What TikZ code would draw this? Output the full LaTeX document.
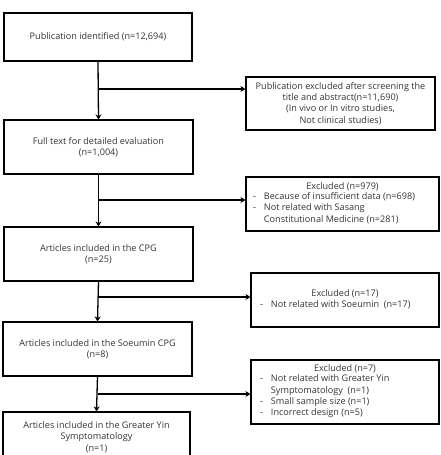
\documentclass[tikz,border=0pt]{standalone}
\usepackage{fontspec}
\setmainfont{Open Sans}
\usetikzlibrary{arrows.meta}
\definecolor{txt}{HTML}{333333}
\newcommand{\blist}[2]{\begin{tabular}{@{}l@{\hspace{8pt}}p{#1}@{}}#2\end{tabular}}
\begin{document}
\begin{tikzpicture}[x=1pt,y=-1pt,
  box/.style={draw, line width=1.1pt, inner sep=0pt, align=center, text=txt,
    font=\fontsize{9.1}{11.3}\selectfont},
  arr/.style={line width=1.3pt, -{Stealth[length=5pt,width=6pt]}}]
\clip (0,0) rectangle (440,455);
\useasboundingbox (0,0) rectangle (440,455);
% left column
\node[box, minimum width=188pt, minimum height=48pt] (b1) at (98,37) {Publication identified (n=12,694)};
\node[box, minimum width=189pt, minimum height=54pt] (b2) at (98.5,147) {Full text for detailed evaluation\\(n=1,004)};
\node[box, minimum width=189pt, minimum height=54pt] (b3) at (98.5,254) {Articles included in the CPG\\(n=25)};
\node[box, minimum width=189pt, minimum height=54pt] (b4) at (97.5,349) {Articles included in the Soeumin CPG\\(n=8)};
\node[box, minimum width=187pt, minimum height=50pt] (b5) at (96.5,437) {Articles included in the Greater Yin\\Symptomatology\\(n=1)};
% right column
\node[box, minimum width=189pt, minimum height=53pt] (r1) at (340.5,103.5) {Publication excluded after screening the\\title and abstract(n=11,690)\\(In vivo or In vitro studies,\\Not clinical studies)};
\node[box, minimum width=193pt, minimum height=54pt] (r2) at (342.5,204) {Excluded (n=979)\\
  \blist{168pt}{-&Because of insufficient data (n=698)\\
  -&Not related with Sasang\\
   &Constitutional Medicine (n=281)}};
\node[box, minimum width=188pt, minimum height=54pt] (r3) at (345,300) {Excluded (n=17)\\
  \blist{159pt}{-&Not related with Soeumin\ \ (n=17)}};
\node[box, minimum width=188pt, minimum height=64pt] (r4) at (345,392) {Excluded (n=7)\\
  \blist{159pt}{-&Not related with Greater Yin\\
   &Symptomatology\ \ (n=1)\\
  -&Small sample size (n=1)\\
  -&Incorrect design (n=5)}};
% connectors
\draw[arr] (b1.south) -- (b2.north);
\draw[arr] (b2.south) -- (b3.north);
\draw[arr] (b3.south) -- (b4.north);
\draw[arr] (b4.south) -- (b5.north);
\coordinate (j1) at (98,89);
\coordinate (j2) at (98,200);
\coordinate (j3) at (98,297);
\coordinate (j4) at (98,394);
\draw[arr] (j1) -- (j1 -| r1.west);
\draw[arr] (j2) -- (j2 -| r2.west);
\draw[arr] (j3) -- (j3 -| r3.west);
\draw[arr] (j4) -- (j4 -| r4.west);
\end{tikzpicture}
\end{document}
